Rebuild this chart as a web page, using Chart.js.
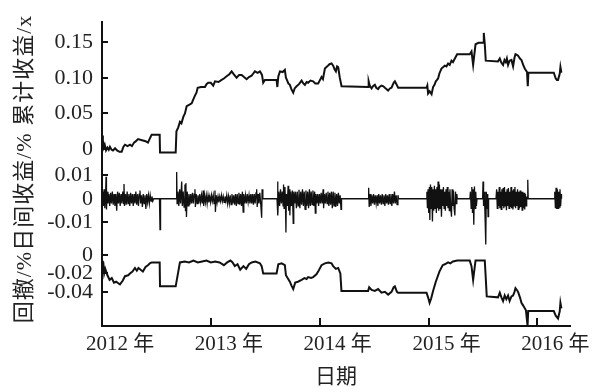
<!DOCTYPE html>
<html lang="zh">
<head>
<meta charset="UTF-8">
<title>累计收益 日间收益 回撤</title>
<script src="https://cdn.jsdelivr.net/npm/chart.js"></script>
<style>
  body { margin: 0; background: #fff; }
  canvas { display: block; }
</style>
</head>
<body>
<canvas id="chart" width="596" height="392"></canvas>
<script>
// [year, value] pairs
const cumReturn = [
  [2012.000, 0.019], [2012.008, 0.012], [2012.015, 0.002], [2012.025, 0.006], [2012.037, -0.002], [2012.050, 0.002],
  [2012.062, -0.001], [2012.073, 0.003], [2012.088, -0.001], [2012.101, -0.002], [2012.120, 0.001], [2012.138, -0.002],
  [2012.160, -0.004], [2012.181, -0.004], [2012.196, 0.003], [2012.211, 0.006], [2012.235, 0.004], [2012.257, 0.006],
  [2012.275, 0.004], [2012.294, 0.009], [2012.312, 0.011], [2012.331, 0.014], [2012.352, 0.013], [2012.376, 0.012],
  [2012.400, 0.011], [2012.422, 0.009], [2012.440, 0.015], [2012.456, 0.020], [2012.490, 0.020], [2012.530, 0.020],
  [2012.533, -0.005], [2012.677, -0.005], [2012.684, 0.025], [2012.700, 0.030], [2012.716, 0.038], [2012.730, 0.036],
  [2012.747, 0.045], [2012.762, 0.050], [2012.778, 0.060], [2012.800, 0.062], [2012.824, 0.064], [2012.840, 0.070],
  [2012.854, 0.075], [2012.868, 0.079], [2012.879, 0.086], [2012.910, 0.087], [2012.946, 0.087], [2012.960, 0.091],
  [2012.976, 0.093], [2013.000, 0.093], [2013.022, 0.089], [2013.038, 0.095], [2013.070, 0.094], [2013.099, 0.097],
  [2013.120, 0.099], [2013.145, 0.102], [2013.170, 0.105], [2013.191, 0.109], [2013.215, 0.104], [2013.237, 0.100],
  [2013.260, 0.104], [2013.283, 0.104], [2013.305, 0.101], [2013.329, 0.098], [2013.350, 0.101], [2013.375, 0.103],
  [2013.390, 0.106], [2013.405, 0.109], [2013.430, 0.107], [2013.451, 0.109], [2013.470, 0.104], [2013.481, 0.093],
  [2013.497, 0.097], [2013.604, 0.097], [2013.611, 0.087], [2013.620, 0.102], [2013.635, 0.109], [2013.660, 0.108],
  [2013.680, 0.111], [2013.690, 0.100], [2013.699, 0.097], [2013.712, 0.092], [2013.726, 0.090], [2013.740, 0.084],
  [2013.757, 0.079], [2013.770, 0.085], [2013.788, 0.088], [2013.810, 0.091], [2013.834, 0.096], [2013.850, 0.092],
  [2013.864, 0.090], [2013.880, 0.094], [2013.894, 0.093], [2013.915, 0.096], [2013.940, 0.095], [2013.960, 0.092],
  [2013.986, 0.092], [2014.000, 0.096], [2014.017, 0.101], [2014.030, 0.098], [2014.048, 0.113], [2014.070, 0.116],
  [2014.090, 0.119], [2014.109, 0.120], [2014.124, 0.117], [2014.137, 0.112], [2014.149, 0.109], [2014.160, 0.116],
  [2014.170, 0.115], [2014.185, 0.100], [2014.201, 0.088], [2014.445, 0.087], [2014.450, 0.095], [2014.460, 0.089],
  [2014.477, 0.085], [2014.490, 0.088], [2014.507, 0.090], [2014.520, 0.086], [2014.537, 0.084], [2014.550, 0.087],
  [2014.568, 0.089], [2014.585, 0.088], [2014.599, 0.086], [2014.615, 0.084], [2014.629, 0.082], [2014.645, 0.085],
  [2014.660, 0.086], [2014.680, 0.093], [2014.691, 0.095], [2014.705, 0.091], [2014.721, 0.086], [2014.982, 0.086],
  [2014.989, 0.089], [2014.996, 0.078], [2015.010, 0.081], [2015.028, 0.077], [2015.042, 0.087], [2015.055, 0.090],
  [2015.067, 0.095], [2015.078, 0.097], [2015.088, 0.099], [2015.100, 0.106], [2015.119, 0.113], [2015.135, 0.115],
  [2015.150, 0.117], [2015.165, 0.116], [2015.180, 0.120], [2015.195, 0.118], [2015.211, 0.124], [2015.225, 0.122],
  [2015.242, 0.127], [2015.263, 0.133], [2015.379, 0.133], [2015.395, 0.137], [2015.410, 0.118], [2015.432, 0.147],
  [2015.460, 0.149], [2015.501, 0.149], [2015.508, 0.163], [2015.517, 0.147], [2015.526, 0.124], [2015.639, 0.123],
  [2015.655, 0.127], [2015.670, 0.121], [2015.685, 0.118], [2015.698, 0.125], [2015.710, 0.122], [2015.720, 0.127],
  [2015.731, 0.118], [2015.745, 0.124], [2015.762, 0.125], [2015.777, 0.116], [2015.790, 0.128], [2015.799, 0.133],
  [2015.812, 0.132], [2015.823, 0.131], [2015.840, 0.127], [2015.854, 0.125], [2015.870, 0.118], [2015.884, 0.113],
  [2015.905, 0.108], [2015.912, 0.088], [2015.918, 0.107], [2016.151, 0.107], [2016.169, 0.099], [2016.180, 0.097],
  [2016.190, 0.097], [2016.206, 0.106], [2016.212, 0.115], [2016.221, 0.107]
];

const dailyReturn = [
  [2012.000, 0], [2012.006, 0.003], [2012.012, -0.003], [2012.019, 0.004], [2012.026, -0.004], [2012.033, 0.002],
  [2012.037, 0.0093], [2012.041, -0.0045], [2012.048, 0.003], [2012.055, -0.002], [2012.063, 0.002], [2012.071, -0.003],
  [2012.079, 0.0025], [2012.087, -0.002], [2012.095, 0.003], [2012.103, -0.0025], [2012.111, 0.002], [2012.119, -0.003],
  [2012.127, 0.002], [2012.135, -0.005], [2012.143, 0.003], [2012.151, -0.002], [2012.159, 0.0025], [2012.167, -0.003],
  [2012.175, 0.002], [2012.183, -0.002], [2012.191, 0.003], [2012.199, -0.002], [2012.202, 0.0062], [2012.207, -0.003],
  [2012.215, 0.002], [2012.223, -0.0025], [2012.231, 0.003], [2012.239, -0.002], [2012.247, 0.002], [2012.255, -0.003],
  [2012.263, 0.0025], [2012.271, -0.002], [2012.279, 0.002], [2012.287, -0.003], [2012.295, 0.002], [2012.303, -0.002],
  [2012.311, 0.003], [2012.319, -0.0025], [2012.327, 0.002], [2012.335, -0.003], [2012.343, 0.002], [2012.349, 0.0035],
  [2012.355, -0.002], [2012.363, 0.0015], [2012.371, -0.0035], [2012.379, 0.002], [2012.387, -0.002], [2012.395, 0.0015],
  [2012.403, -0.0043], [2012.411, 0.002], [2012.419, -0.0015], [2012.427, 0.0015], [2012.435, -0.002], [2012.443, 0.0015],
  [2012.451, -0.001], [2012.459, 0.001], [2012.467, -0.001], [2012.475, 0], [2012.528, 0], [2012.533, -0.013],
  [2012.538, 0], [2012.682, 0],
  [2012.686, 0.0113], [2012.690, -0.002], [2012.698, 0.003], [2012.706, -0.003], [2012.714, 0.004], [2012.722, -0.002],
  [2012.732, 0.0073], [2012.738, -0.003], [2012.746, 0.003], [2012.754, -0.0035], [2012.762, 0.006], [2012.767, -0.005],
  [2012.771, 0.0066], [2012.776, -0.0077], [2012.783, 0.003], [2012.791, -0.003], [2012.799, 0.002], [2012.807, -0.0025],
  [2012.815, 0.002], [2012.823, -0.002], [2012.831, 0.0025], [2012.839, -0.002], [2012.847, 0.002], [2012.854, 0.004],
  [2012.858, -0.0035], [2012.866, 0.002], [2012.874, -0.002], [2012.882, 0.0015], [2012.890, -0.002], [2012.898, 0.002],
  [2012.906, -0.0015], [2012.914, 0.0015], [2012.922, -0.002], [2012.930, 0.0035], [2012.934, -0.003], [2012.942, 0.0015],
  [2012.950, -0.0015], [2012.958, 0.0015], [2012.966, -0.002], [2012.974, 0.0015], [2012.982, -0.0015], [2012.990, 0.001],
  [2012.998, -0.0015], [2013.006, 0.0015], [2013.014, -0.001], [2013.022, 0.0015], [2013.030, -0.002], [2013.038, 0.0035],
  [2013.042, -0.0056], [2013.050, 0.0015], [2013.058, -0.0015], [2013.066, 0.001], [2013.074, -0.0015], [2013.082, 0.001],
  [2013.090, -0.001], [2013.098, 0.0015], [2013.106, -0.001], [2013.114, 0.001], [2013.122, -0.0015], [2013.130, 0.001],
  [2013.138, -0.001], [2013.146, 0.0015], [2013.154, -0.002], [2013.162, 0.001], [2013.170, -0.002], [2013.178, 0.0015],
  [2013.186, -0.0025], [2013.194, 0.002], [2013.202, -0.002], [2013.210, 0.0015], [2013.218, -0.0025], [2013.226, 0.002],
  [2013.234, -0.003], [2013.242, 0.002], [2013.250, -0.002], [2013.258, 0.0025], [2013.266, -0.0025], [2013.274, 0.002],
  [2013.282, -0.003], [2013.290, 0.003], [2013.297, -0.0056], [2013.303, 0.002], [2013.311, -0.002], [2013.319, 0.0015],
  [2013.327, -0.002], [2013.335, 0.002], [2013.343, -0.0015], [2013.351, 0.0015], [2013.359, -0.002], [2013.367, 0.002],
  [2013.375, -0.002], [2013.383, 0.002], [2013.391, -0.0025], [2013.399, 0.002], [2013.407, -0.002], [2013.415, 0.0025],
  [2013.421, 0.004], [2013.426, -0.0035], [2013.434, 0.002], [2013.442, -0.002], [2013.450, 0.0025], [2013.458, -0.002],
  [2013.467, -0.008], [2013.471, 0.004], [2013.478, 0], [2013.608, 0],
  [2013.613, 0.0073], [2013.617, -0.007], [2013.624, 0.003], [2013.632, -0.003], [2013.640, 0.004], [2013.648, -0.002],
  [2013.656, 0.003], [2013.664, -0.003], [2013.668, 0.006], [2013.673, -0.004], [2013.681, 0.005], [2013.686, -0.003],
  [2013.690, -0.0142], [2013.694, 0.002], [2013.702, -0.003], [2013.710, 0.0055], [2013.715, -0.005], [2013.722, 0.004],
  [2013.726, -0.007], [2013.733, 0.003], [2013.741, -0.003], [2013.749, 0.0035], [2013.757, -0.0104], [2013.762, 0.003],
  [2013.770, -0.002], [2013.778, 0.003], [2013.786, -0.004], [2013.794, 0.003], [2013.802, -0.003], [2013.810, 0.0038],
  [2013.818, -0.004], [2013.826, 0.003], [2013.834, -0.0025], [2013.842, 0.004], [2013.850, -0.003], [2013.858, 0.003],
  [2013.866, -0.0045], [2013.874, 0.0035], [2013.882, -0.003], [2013.890, 0.003], [2013.898, -0.004], [2013.906, 0.004],
  [2013.914, -0.003], [2013.922, 0.003], [2013.930, -0.0025], [2013.938, 0.0035], [2013.946, -0.003], [2013.954, 0.003],
  [2013.960, -0.006], [2013.966, 0.002], [2013.974, -0.002], [2013.982, 0.002], [2013.990, -0.003], [2013.998, 0.002],
  [2014.006, -0.002], [2014.014, 0.0025], [2014.022, -0.002], [2014.032, 0.004], [2014.036, -0.004], [2014.044, 0.002],
  [2014.052, -0.002], [2014.060, 0.0025], [2014.068, -0.002], [2014.076, 0.003], [2014.084, -0.003], [2014.092, 0.0025],
  [2014.100, -0.0025], [2014.108, 0.003], [2014.116, -0.004], [2014.124, 0.003], [2014.132, -0.003], [2014.140, 0.0025],
  [2014.148, -0.0035], [2014.156, 0.002], [2014.164, -0.003], [2014.172, 0.0025], [2014.180, -0.002], [2014.188, 0.0015],
  [2014.196, -0.0045], [2014.201, 0], [2014.445, 0],
  [2014.450, 0.0046], [2014.455, -0.0035], [2014.463, 0.002], [2014.471, -0.003], [2014.479, 0.0015], [2014.487, -0.002],
  [2014.495, 0.002], [2014.503, -0.0025], [2014.511, 0.0015], [2014.519, -0.002], [2014.527, 0.0015], [2014.535, -0.003],
  [2014.543, 0.002], [2014.551, -0.002], [2014.559, 0.0015], [2014.567, -0.0025], [2014.575, 0.002], [2014.583, -0.002],
  [2014.591, 0.0015], [2014.599, -0.003], [2014.607, 0.002], [2014.615, -0.002], [2014.623, 0.0015], [2014.631, -0.0025],
  [2014.639, 0.002], [2014.647, -0.002], [2014.655, 0.002], [2014.663, -0.003], [2014.671, 0.002], [2014.679, -0.002],
  [2014.687, 0.003], [2014.695, -0.002], [2014.703, 0.0015], [2014.711, -0.0025], [2014.719, 0.0015], [2014.725, 0],
  [2014.980, 0],
  [2014.985, 0.003], [2014.990, -0.004], [2014.996, 0.004], [2015.002, -0.006], [2015.008, 0.005], [2015.012, -0.009],
  [2015.018, 0.006], [2015.024, -0.004], [2015.030, 0.005], [2015.036, -0.0096], [2015.042, 0.004], [2015.048, -0.005],
  [2015.054, 0.0055], [2015.060, -0.004], [2015.066, 0.004], [2015.072, -0.006], [2015.078, 0.005], [2015.084, -0.004],
  [2015.088, 0.0073], [2015.094, -0.005], [2015.100, 0.006], [2015.106, -0.004], [2015.112, 0.004], [2015.119, -0.0076],
  [2015.125, 0.004], [2015.131, -0.003], [2015.137, 0.005], [2015.143, -0.004], [2015.149, 0.003], [2015.155, -0.005],
  [2015.161, 0.004], [2015.167, -0.003], [2015.173, 0.005], [2015.179, -0.004], [2015.185, 0.003], [2015.191, -0.005],
  [2015.197, 0.004], [2015.203, -0.003], [2015.211, -0.0076], [2015.217, 0.004], [2015.223, -0.003], [2015.229, 0.0035],
  [2015.235, -0.004], [2015.242, -0.007], [2015.248, 0.003], [2015.254, -0.002], [2015.260, 0.002], [2015.265, 0],
  [2015.380, 0],
  [2015.385, 0.003], [2015.392, -0.004], [2015.398, 0.005], [2015.404, -0.006], [2015.410, 0.004], [2015.416, -0.011],
  [2015.422, 0.0052], [2015.428, -0.004], [2015.434, 0.003], [2015.440, -0.003], [2015.446, 0], [2015.497, 0],
  [2015.501, 0.0073], [2015.506, -0.003], [2015.512, 0.003], [2015.518, -0.005], [2015.526, -0.0193], [2015.531, 0.003],
  [2015.538, -0.004], [2015.544, 0.002], [2015.547, -0.0075], [2015.552, 0], [2015.620, 0],
  [2015.626, 0.004], [2015.632, -0.004], [2015.638, 0.003], [2015.644, -0.003], [2015.650, 0.005], [2015.656, -0.004],
  [2015.662, 0.003], [2015.668, -0.0045], [2015.674, 0.004], [2015.680, -0.003], [2015.686, 0.0045], [2015.692, -0.004],
  [2015.698, 0.005], [2015.704, -0.003], [2015.710, 0.003], [2015.716, -0.0048], [2015.722, 0.004], [2015.728, -0.003],
  [2015.734, 0.0045], [2015.740, -0.004], [2015.746, 0.003], [2015.752, -0.0035], [2015.758, 0.005], [2015.764, -0.004],
  [2015.770, 0.0035], [2015.776, -0.0045], [2015.782, 0.004], [2015.788, -0.003], [2015.794, 0.005], [2015.800, -0.004],
  [2015.806, 0.003], [2015.812, -0.003], [2015.818, 0.004], [2015.824, -0.0045], [2015.830, 0.003], [2015.836, -0.004],
  [2015.842, 0.0035], [2015.848, -0.0035], [2015.854, 0.003], [2015.860, -0.0048], [2015.866, 0.003], [2015.872, -0.004],
  [2015.878, 0.0025], [2015.884, -0.0045], [2015.890, 0.002], [2015.896, -0.003], [2015.902, 0.001], [2015.906, 0],
  [2015.912, 0.008], [2015.916, 0], [2016.155, 0],
  [2016.160, 0.003], [2016.166, -0.004], [2016.172, 0.0046], [2016.178, -0.0043], [2016.184, 0.004], [2016.190, -0.004],
  [2016.196, 0.003], [2016.202, -0.0035], [2016.208, 0.004], [2016.214, -0.003], [2016.220, 0.002], [2016.222, 0]
];

const drawdown = [
  [2012.000, -0.006], [2012.012, -0.008], [2012.020, -0.020], [2012.030, -0.015], [2012.050, -0.022], [2012.070, -0.027],
  [2012.090, -0.025], [2012.110, -0.030], [2012.130, -0.029], [2012.165, -0.032], [2012.190, -0.028], [2012.211, -0.023],
  [2012.240, -0.022], [2012.257, -0.020], [2012.280, -0.018], [2012.303, -0.014], [2012.320, -0.017], [2012.335, -0.014],
  [2012.355, -0.016], [2012.376, -0.018], [2012.400, -0.013], [2012.422, -0.011], [2012.440, -0.009], [2012.456, -0.008],
  [2012.530, -0.008], [2012.533, -0.034], [2012.677, -0.034], [2012.716, -0.008], [2012.760, -0.007], [2012.800, -0.008],
  [2012.840, -0.006], [2012.880, -0.008], [2012.920, -0.007], [2012.960, -0.006], [2013.000, -0.008], [2013.040, -0.007],
  [2013.080, -0.008], [2013.120, -0.011], [2013.150, -0.008], [2013.180, -0.006], [2013.200, -0.008], [2013.220, -0.012],
  [2013.245, -0.010], [2013.270, -0.016], [2013.300, -0.012], [2013.325, -0.015], [2013.350, -0.010], [2013.375, -0.008],
  [2013.410, -0.007], [2013.451, -0.009], [2013.467, -0.012], [2013.481, -0.020], [2013.604, -0.020], [2013.620, -0.010],
  [2013.650, -0.009], [2013.680, -0.011], [2013.690, -0.022], [2013.726, -0.029], [2013.740, -0.033], [2013.757, -0.037],
  [2013.775, -0.030], [2013.800, -0.029], [2013.834, -0.027], [2013.860, -0.025], [2013.880, -0.026], [2013.894, -0.024],
  [2013.920, -0.025], [2013.940, -0.024], [2013.970, -0.021], [2013.986, -0.018], [2014.017, -0.011], [2014.048, -0.009],
  [2014.080, -0.008], [2014.109, -0.009], [2014.124, -0.012], [2014.149, -0.015], [2014.170, -0.014], [2014.190, -0.020],
  [2014.200, -0.039], [2014.445, -0.039], [2014.455, -0.035], [2014.477, -0.038], [2014.507, -0.039], [2014.537, -0.037],
  [2014.568, -0.041], [2014.599, -0.040], [2014.629, -0.043], [2014.660, -0.040], [2014.680, -0.035], [2014.691, -0.034],
  [2014.710, -0.040], [2014.721, -0.041], [2014.982, -0.041], [2014.996, -0.046], [2015.010, -0.052], [2015.025, -0.047],
  [2015.042, -0.039], [2015.067, -0.029], [2015.100, -0.018], [2015.130, -0.011], [2015.150, -0.010], [2015.180, -0.008],
  [2015.200, -0.009], [2015.225, -0.007], [2015.263, -0.006], [2015.379, -0.006], [2015.395, -0.012], [2015.410, -0.027],
  [2015.432, -0.006], [2015.517, -0.006], [2015.526, -0.025], [2015.535, -0.045], [2015.639, -0.046], [2015.655, -0.041],
  [2015.670, -0.046], [2015.685, -0.050], [2015.700, -0.044], [2015.715, -0.048], [2015.731, -0.044], [2015.745, -0.050],
  [2015.762, -0.045], [2015.777, -0.044], [2015.790, -0.040], [2015.799, -0.036], [2015.812, -0.038], [2015.823, -0.040],
  [2015.840, -0.046], [2015.854, -0.052], [2015.870, -0.055], [2015.895, -0.060], [2015.910, -0.077], [2015.916, -0.061],
  [2016.151, -0.061], [2016.169, -0.066], [2016.190, -0.069], [2016.206, -0.061], [2016.212, -0.052], [2016.221, -0.058]
];

const yearTicks = [2012, 2013, 2014, 2015, 2016];
const cumTicks = [0, 0.05, 0.10, 0.15];
const dailyTicks = [-0.01, 0, 0.01];
const ddTicks = [-0.04, -0.02, 0];
const yTitle = '回撤/%日间收益/% 累计收益/x';
const xTitle = '日期';

const INK = '#111';
const TXT = '#222';
const serif = 'Liberation Serif';

function pts(list) {
  return list.map(([x, y]) => ({ x, y }));
}

function fmt(v) {
  if (Math.abs(v) < 1e-9) return '0';
  return v.toFixed(2);
}

// one of the three stacked panels on the left
function panel(weight, min, max, ticks) {
  return {
    type: 'linear',
    position: 'left',
    stack: 'panels',
    stackWeight: weight,
    min: min,
    max: max,
    afterBuildTicks: s => { s.ticks = ticks.map(v => ({ value: v })); },
    afterFit: s => { s.width = 62; },
    grid: { display: false, drawTicks: false, tickLength: 0 },
    border: { display: true, color: INK, width: 2 },
    ticks: {
      autoSkip: false,
      padding: 9,
      color: TXT,
      font: { family: serif, size: 22 },
      callback: v => fmt(v)
    }
  };
}

// ticks point inward, and the single rotated y title
const innerTicks = {
  id: 'innerTicks',
  afterDraw(chart) {
    const ctx = chart.ctx;
    const area = chart.chartArea;
    ctx.save();
    ctx.strokeStyle = INK;
    ctx.lineWidth = 2;
    ['y1', 'y2', 'y3'].forEach(id => {
      const s = chart.scales[id];
      s.ticks.forEach(t => {
        const y = Math.round(s.getPixelForValue(t.value));
        ctx.beginPath();
        ctx.moveTo(area.left, y);
        ctx.lineTo(area.left + 6, y);
        ctx.stroke();
      });
    });
    const xs = chart.scales.x;
    xs.ticks.forEach(t => {
      const x = Math.round(xs.getPixelForValue(t.value));
      ctx.beginPath();
      ctx.moveTo(x, area.bottom);
      ctx.lineTo(x, area.bottom - 8);
      ctx.stroke();
    });

    ctx.translate(25, 169);
    ctx.rotate(-Math.PI / 2);
    ctx.font = '22px "Liberation Serif", "Noto Sans CJK SC"';
    ctx.letterSpacing = '1px';
    ctx.fillStyle = TXT;
    ctx.textAlign = 'center';
    ctx.textBaseline = 'middle';
    ctx.fillText(yTitle, 0, 0);
    ctx.restore();
  }
};

const line = (data, axis, width) => ({
  data: pts(data),
  yAxisID: axis,
  borderColor: INK,
  borderWidth: width,
  pointRadius: 0,
  tension: 0,
  fill: false
});

new Chart(document.getElementById('chart'), {
  type: 'line',
  data: {
    datasets: [
      line(cumReturn, 'y1', 2),
      line(dailyReturn, 'y2', 1.3),
      line(drawdown, 'y3', 2)
    ]
  },
  options: {
    responsive: false,
    animation: false,
    layout: { padding: { left: 40, right: 26, top: 12, bottom: 4 } },
    plugins: { legend: { display: false }, tooltip: { enabled: false } },
    scales: {
      x: {
        type: 'linear',
        min: 2012,
        max: 2016.3,
        afterBuildTicks: s => { s.ticks = yearTicks.map(v => ({ value: v })); },
        afterFit: s => { s.height = 62; s.paddingLeft = 0; s.paddingRight = 0; },
        grid: { display: false, drawTicks: false, tickLength: 0 },
        border: { display: true, color: INK, width: 2 },
        ticks: {
          autoSkip: false,
          maxRotation: 0,
          padding: 6,
          labelOffset: 18,
          color: TXT,
          font: { family: serif + ', Noto Sans CJK SC', size: 21 },
          callback: v => v + ' 年'
        },
        title: {
          display: true,
          text: xTitle,
          color: TXT,
          padding: { top: 0, bottom: 0 },
          font: { family: 'Noto Sans CJK SC', size: 21 }
        }
      },
      y3: panel(83, -0.0772, 0.0102, ddTicks),
      y2: panel(85, -0.0198, 0.0149, dailyTicks),
      y1: panel(146, -0.0203, 0.178, cumTicks)
    }
  },
  plugins: [innerTicks]
});
</script>
</body>
</html>
